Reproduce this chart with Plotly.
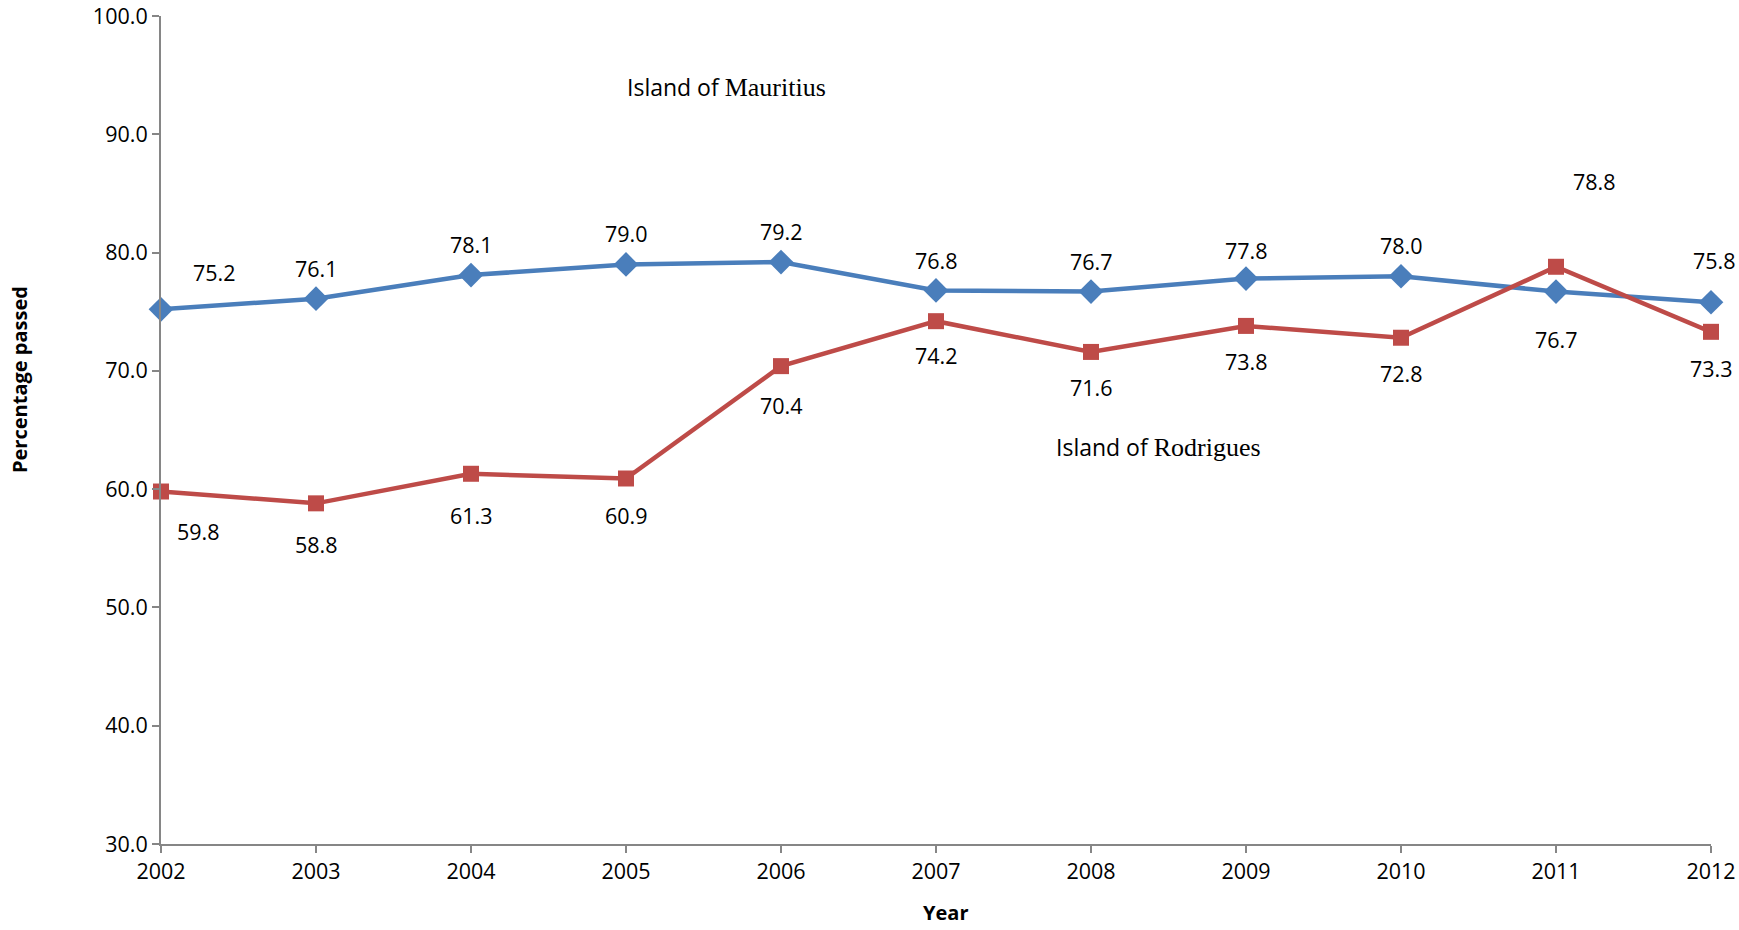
import plotly.graph_objects as go

years = [2002, 2003, 2004, 2005, 2006, 2007, 2008, 2009, 2010, 2011, 2012]
mauritius = [75.2, 76.1, 78.1, 79.0, 79.2, 76.8, 76.7, 77.8, 78.0, 76.7, 75.8]
rodrigues = [59.8, 58.8, 61.3, 60.9, 70.4, 74.2, 71.6, 73.8, 72.8, 78.8, 73.3]
y_ticks = [30, 40, 50, 60, 70, 80, 90, 100]

# label offsets in pixels (style, not data)
maur_dx = [53, 0, 0, 0, 0, 0, 0, 0, 0, 0, 3]
maur_dy = [37, 30, 31, 31, 31, 30, 30, 28, 31, -48, 42]
rod_dx = [37, 0, 0, 0, 0, 0, 0, 0, 0, 38, 0]
rod_dy = [-40, -41, -42, -37, -39, -34, -36, -36, -36, 85, -37]

BLUE = "#4A7EBB"
RED = "#BE4B48"
AXIS = "#868686"
FONT = "Open Sans"
FS = 21.5
L, R, T, B = 161, 28, 16, 86
W, H = 1739, 930
PW, PH = W - L - R, H - T - B

fig = go.Figure()
fig.add_trace(go.Scatter(
    x=years, y=mauritius, mode="lines+markers", name="Island of Mauritius",
    line=dict(color=BLUE, width=4.5),
    marker=dict(symbol="diamond", size=19, color=BLUE),
))
fig.add_trace(go.Scatter(
    x=years, y=rodrigues, mode="lines+markers", name="Island of Rodrigues",
    line=dict(color=RED, width=4.5),
    marker=dict(symbol="square", size=16, color=RED),
))

annotations = []
for x, y, dx, dy in zip(years, mauritius, maur_dx, maur_dy):
    annotations.append(dict(x=x, y=y, text=f"{y:.1f}", showarrow=False,
                            xshift=dx, yshift=dy,
                            font=dict(family=FONT, size=FS, color="black")))
for x, y, dx, dy in zip(years, rodrigues, rod_dx, rod_dy):
    annotations.append(dict(x=x, y=y, text=f"{y:.1f}", showarrow=False,
                            xshift=dx, yshift=dy,
                            font=dict(family=FONT, size=FS, color="black")))

def px(xp):
    return (xp - L) / PW

def py(yp):
    return (H - B - yp) / PH

annotations.append(dict(
    xref="paper", yref="paper", x=px(726), y=py(87), xanchor="center", yanchor="middle",
    text='Island of <span style="font-family:Liberation Serif;font-size:26px">Mauritius</span>',
    showarrow=False, font=dict(family=FONT, size=23, color="black")))
annotations.append(dict(
    xref="paper", yref="paper", x=px(1158), y=py(447), xanchor="center", yanchor="middle",
    text='Island of <span style="font-family:Liberation Serif;font-size:26px">Rodrigues</span>',
    showarrow=False, font=dict(family=FONT, size=23, color="black")))
annotations.append(dict(
    xref="paper", yref="paper", x=px(20), y=py(380), xanchor="center", yanchor="middle",
    text="<b>Percentage passed</b>", textangle=-90,
    showarrow=False, font=dict(family=FONT, size=20, color="black")))
annotations.append(dict(
    xref="paper", yref="paper", x=px(945), y=py(913), xanchor="center", yanchor="middle",
    text="<b>Year</b>",
    showarrow=False, font=dict(family=FONT, size=20, color="black")))

fig.update_layout(
    width=W, height=H,
    margin=dict(l=L, r=R, t=T, b=B),
    paper_bgcolor="white", plot_bgcolor="white",
    showlegend=False,
    font=dict(family=FONT, size=FS, color="black"),
    annotations=annotations,
    xaxis=dict(
        range=[2002, 2012], tickmode="array", tickvals=years,
        ticktext=[str(y) for y in years],
        showline=True, linecolor=AXIS, linewidth=2,
        ticks="outside", tickcolor=AXIS, ticklen=7, tickwidth=2,
        showgrid=False, zeroline=False, ticklabeloverflow="allow",
        automargin=False,
        tickfont=dict(family=FONT, size=FS, color="black"),
    ),
    yaxis=dict(
        range=[30, 100], tickmode="array", tickvals=y_ticks,
        ticktext=[f"{v:.1f}" for v in y_ticks],
        showline=True, linecolor=AXIS, linewidth=2,
        ticks="outside", tickcolor=AXIS, ticklen=7, tickwidth=2,
        showgrid=False, zeroline=False, ticklabeloverflow="allow",
        automargin=False,
        tickfont=dict(family=FONT, size=FS, color="black"),
    ),
)
fig.update_traces(cliponaxis=False)

fig.write_html("out.html", config={"displayModeBar": False},
               post_script="document.body.style.margin='0';document.body.style.overflow='hidden';")
